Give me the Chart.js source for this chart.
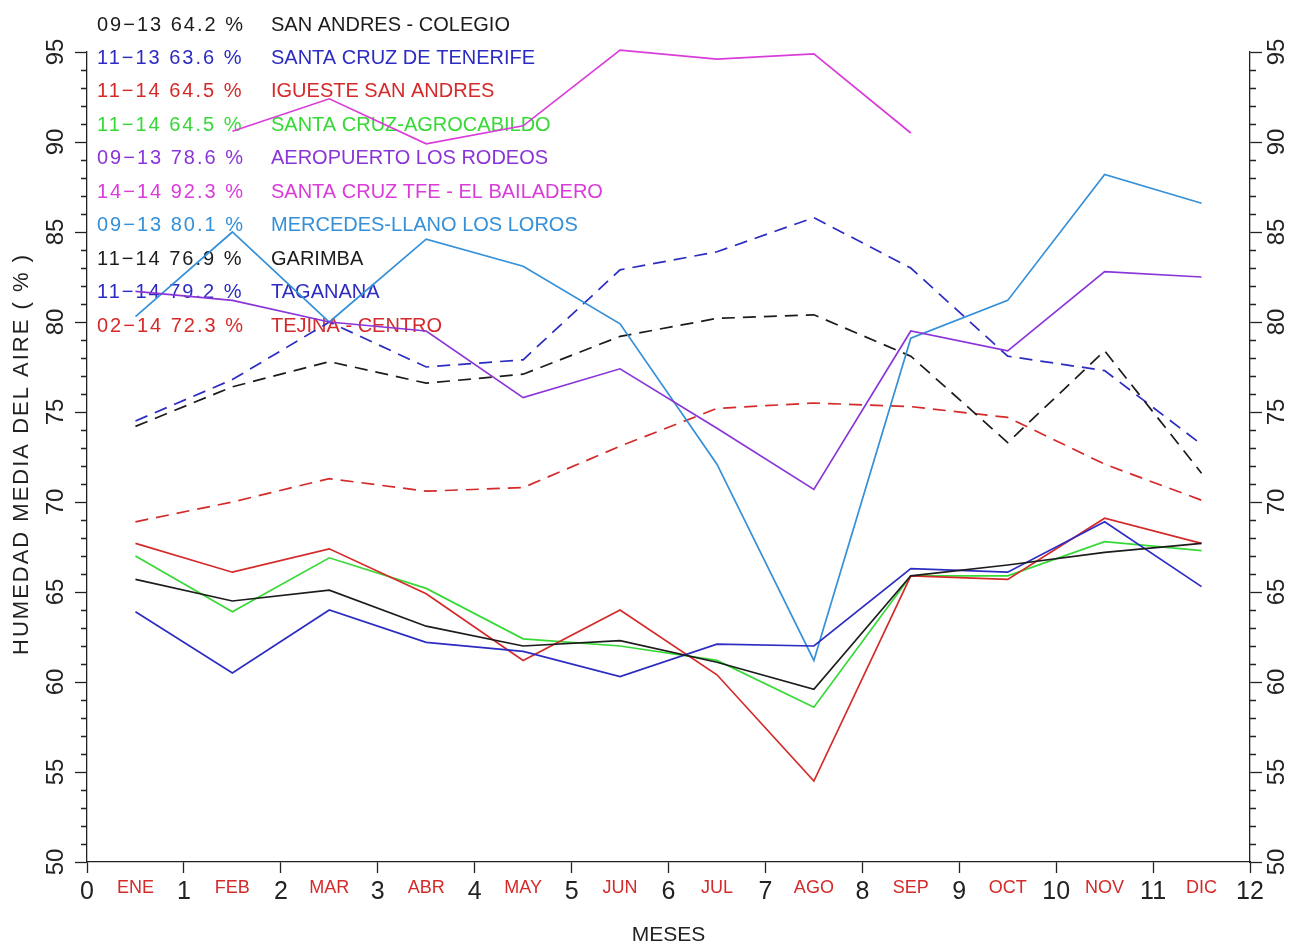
<!DOCTYPE html>
<html>
<head>
<meta charset="utf-8">
<script src="https://cdn.jsdelivr.net/npm/chart.js@4.4.1/dist/chart.umd.min.js"></script>
<style>
  html, body { margin: 0; padding: 0; background: #fff; }
  #wrap { width: 1291px; height: 944px; }
</style>
</head>
<body>
<div id="wrap"><canvas id="chart" width="1291" height="944"></canvas></div>
<script>
// meses (los puntos van en el centro de cada mes)
const months = ['ENE', 'FEB', 'MAR', 'ABR', 'MAY', 'JUN', 'JUL', 'AGO', 'SEP', 'OCT', 'NOV', 'DIC'];

// estaciones
const periods = ['09-13', '11-13', '11-14', '11-14', '09-13', '14-14', '09-13', '11-14', '11-14', '02-14'];
const means = [64.2, 63.6, 64.5, 64.5, 78.6, 92.3, 80.1, 76.9, 79.2, 72.3];
const names = ['SAN ANDRES - COLEGIO', 'SANTA CRUZ DE TENERIFE', 'IGUESTE SAN ANDRES', 'SANTA CRUZ-AGROCABILDO',
  'AEROPUERTO LOS RODEOS', 'SANTA CRUZ TFE - EL BAILADERO', 'MERCEDES-LLANO LOS LOROS', 'GARIMBA', 'TAGANANA', 'TEJINA - CENTRO'];
const colors = ['#1c1c1c', '#2c2cc2', '#d42a2a', '#36d936', '#8a35d8', '#d93cd9', '#3590d8', '#1c1c1c', '#2c2cc2', '#d42a2a'];
const dashed = [false, false, false, false, false, false, false, true, true, true];

// humedad media mensual (%)
const sanAndres   = [65.7, 64.5, 65.1, 63.1, 62.0, 62.3, 61.1, 59.6, 65.9, 66.5, 67.2, 67.7];
const santaCruz   = [63.9, 60.5, 64.0, 62.2, 61.7, 60.3, 62.1, 62.0, 66.3, 66.1, 68.9, 65.3];
const igueste     = [67.7, 66.1, 67.4, 64.9, 61.2, 64.0, 60.4, 54.5, 65.9, 65.7, 69.1, 67.7];
const agrocabildo = [67.0, 63.9, 66.9, 65.2, 62.4, 62.0, 61.2, 58.6, 65.9, 65.9, 67.8, 67.3];
const aeropuerto  = [81.7, 81.2, 80.0, 79.5, 75.8, 77.4, 74.1, 70.7, 79.5, 78.4, 82.8, 82.5];
const bailadero   = [null, 90.6, 92.4, 89.9, 90.9, 95.1, 94.6, 94.9, 90.5, null, null, null];
const mercedes    = [80.3, 85.0, 80.0, 84.6, 83.1, 79.9, 72.1, 61.2, 79.1, 81.2, 88.2, 86.6];
const garimba     = [74.2, 76.4, 77.8, 76.6, 77.1, 79.2, 80.2, 80.4, 78.1, 73.3, 78.4, 71.6];
const taganana    = [74.5, 76.8, 80.0, 77.5, 77.9, 82.9, 83.9, 85.8, 83.0, 78.1, 77.3, 73.2];
const tejina      = [68.9, 70.0, 71.3, 70.6, 70.8, 73.1, 75.2, 75.5, 75.3, 74.7, 72.1, 70.1];

const series = [sanAndres, santaCruz, igueste, agrocabildo, aeropuerto, bailadero, mercedes, garimba, taganana, tejina];

// ejes
const xMin = 0, xMax = 12;
const yMin = 50, yMax = 95, yMajor = 5;

const FONT = "'Liberation Sans', Arial, sans-serif";
const RED = '#d42a2a';

const isMonth = ctx => !!(ctx && ctx.tick && Math.abs(ctx.tick.value % 1) > 0.01);

// etiquetas de texto, ticks menores y leyenda
const extras = {
  id: 'extras',
  beforeDatasetsDraw(chart) {
    const ctx = chart.ctx;
    ctx.save();
    ctx.font = '20px ' + FONT;
    ctx.textBaseline = 'middle';
    ctx.textAlign = 'left';
    names.forEach((n, i) => {
      const y = 25 + i * 33.45;
      ctx.fillStyle = colors[i];
      ctx.letterSpacing = '2px';
      ctx.fillText(`${periods[i].replace('-', '\u2212')} ${means[i].toFixed(1)} %`, 97, y);
      ctx.letterSpacing = '0px';
      ctx.fillText(n, 271, y);
    });
    ctx.restore();
  },
  afterDraw(chart) {
    const ctx = chart.ctx;
    const yl = chart.scales.y;
    const area = chart.chartArea;
    ctx.save();
    ctx.strokeStyle = '#222';
    ctx.lineWidth = 1.3;
    // ticks menores
    for (let v = yMin; v <= yMax; v++) {
      if (v % yMajor === 0) continue;
      const py = Math.round(yl.getPixelForValue(v)) + 0.5;
      ctx.beginPath();
      ctx.moveTo(area.left, py); ctx.lineTo(area.left - 6, py);
      ctx.moveTo(area.right, py); ctx.lineTo(area.right + 6, py);
      ctx.stroke();
    }
    // etiquetas giradas
    ctx.fillStyle = '#222';
    ctx.font = '24px ' + FONT;
    ctx.textAlign = 'center';
    ctx.textBaseline = 'middle';
    for (let v = yMin; v <= yMax; v += yMajor) {
      const py = yl.getPixelForValue(v);
      [56, 1277].forEach(px => {
        ctx.save();
        ctx.translate(px, py);
        ctx.rotate(-Math.PI / 2);
        ctx.fillText(String(v), 0, 0);
        ctx.restore();
      });
    }
    // titulo eje y
    ctx.save();
    ctx.font = '22px ' + FONT;
    ctx.letterSpacing = '2px';
    ctx.translate(22, (area.top + area.bottom) / 2 - 3);
    ctx.rotate(-Math.PI / 2);
    ctx.fillText('HUMEDAD MEDIA DEL AIRE ( % )', 0, 0);
    ctx.restore();
    // titulo eje x
    ctx.font = '21px ' + FONT;
    ctx.fillText('MESES', (area.left + area.right) / 2, 935);
    ctx.restore();
  }
};

const datasets = series.map((s, i) => ({
  label: names[i],
  data: s.map((v, m) => ({ x: m + 0.5, y: v })),
  borderColor: colors[i],
  backgroundColor: colors[i],
  borderWidth: 1.7,
  borderDash: dashed[i] ? [13, 8] : [],
  pointRadius: 0,
  tension: 0,
  spanGaps: false,
  clip: false
}));

const yAxis = (pos, width) => ({
  type: 'linear',
  position: pos,
  min: yMin,
  max: yMax,
  ticks: { stepSize: yMajor, display: false },
  grid: { drawOnChartArea: false, tickLength: 12, tickColor: '#222', tickWidth: 1.3 },
  border: { display: true, color: '#222', width: 1.3 },
  afterFit(scale) { scale.width = width; }
});

new Chart(document.getElementById('chart'), {
  type: 'line',
  data: { datasets },
  options: {
    responsive: false,
    animation: false,
    layout: { padding: { top: 52, left: 0, right: 0, bottom: 0 } },
    plugins: { legend: { display: false }, tooltip: { enabled: false } },
    scales: {
      x: {
        type: 'linear',
        min: xMin,
        max: xMax,
        afterBuildTicks(scale) {
          const t = [];
          for (let v = xMin; v <= xMax; v += 0.5) t.push({ value: v });
          scale.ticks = t;
        },
        ticks: {
          autoSkip: false,
          maxRotation: 0,
          padding: 4,
          color: ctx => isMonth(ctx) ? RED : '#222',
          font: ctx => isMonth(ctx) ? { size: 18, family: FONT } : { size: 25, family: FONT },
          callback: v => (Math.abs(v % 1) > 0.01) ? months[Math.floor(v)] : String(v)
        },
        grid: {
          drawOnChartArea: false,
          tickLength: 11,
          tickWidth: 1.3,
          tickColor: ctx => isMonth(ctx) ? 'rgba(0,0,0,0)' : '#222'
        },
        border: { display: true, color: '#222', width: 1.3 },
        afterFit(scale) { scale.height = 82; }
      },
      y: yAxis('left', 87),
      y2: yAxis('right', 41)
    }
  },
  plugins: [extras]
});
</script>
</body>
</html>
